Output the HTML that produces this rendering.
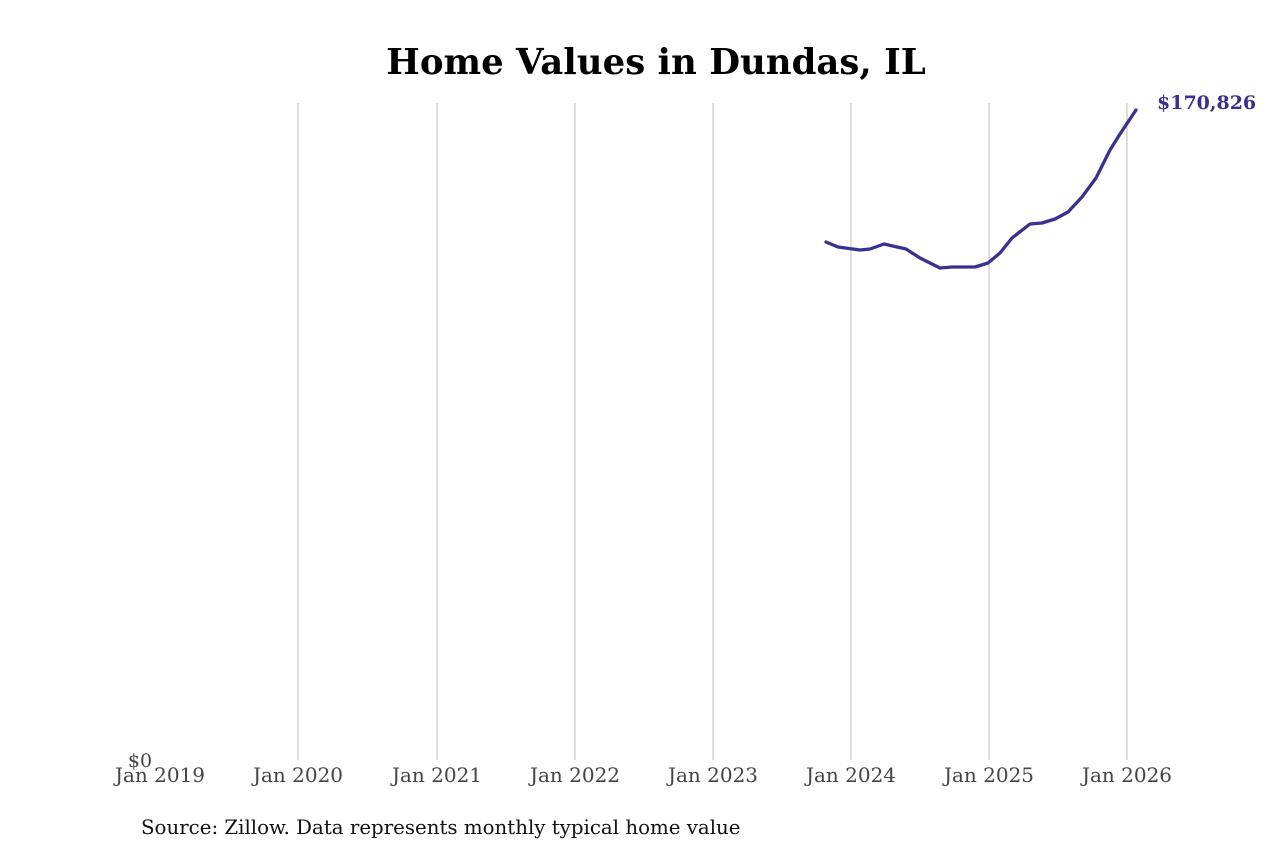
<!DOCTYPE html>
<html><head><meta charset="utf-8"><style>
body{margin:0;background:#fff;}
svg{display:block;font-family:"DejaVu Serif","Liberation Serif",serif;}
</style></head><body>
<svg width="1280" height="853" viewBox="0 0 1280 853">
<text x="656" y="74" text-anchor="middle" font-size="35.5" font-weight="bold" fill="#000">Home Values in Dundas, IL</text>
<g stroke="#bdbdbd" stroke-width="1">
<line x1="298" y1="103" x2="298" y2="760"/>
<line x1="437" y1="103" x2="437" y2="760"/>
<line x1="575" y1="103" x2="575" y2="760"/>
<line x1="713" y1="103" x2="713" y2="760"/>
<line x1="851" y1="103" x2="851" y2="760"/>
<line x1="989" y1="103" x2="989" y2="760"/>
<line x1="1127" y1="103" x2="1127" y2="760"/>
</g>
<polyline fill="none" stroke="#38318f" stroke-width="3.3" stroke-linejoin="round" stroke-linecap="round"
points="826,242 838,247 860,250 870,249 884,244 906,249 920,258 940,268 952,267 975,267 988,263 1000,253 1012,238 1030,224 1042,223 1055,219 1068,212 1082,197 1096,178 1110,150 1120,134 1136,110"/>
<text x="1157" y="109" font-size="19" font-weight="bold" fill="#38318f">$170,826</text>
<g font-size="20" fill="#444" text-anchor="middle">
<text x="140" y="767" font-size="19">$0</text>
<text x="160" y="782">Jan 2019</text>
<text x="298" y="782">Jan 2020</text>
<text x="437" y="782">Jan 2021</text>
<text x="575" y="782">Jan 2022</text>
<text x="713" y="782">Jan 2023</text>
<text x="851" y="782">Jan 2024</text>
<text x="989" y="782">Jan 2025</text>
<text x="1127" y="782">Jan 2026</text>
</g>
<text x="141" y="834" font-size="19.8" fill="#111">Source: Zillow. Data represents monthly typical home value</text>
</svg>
</body></html>
